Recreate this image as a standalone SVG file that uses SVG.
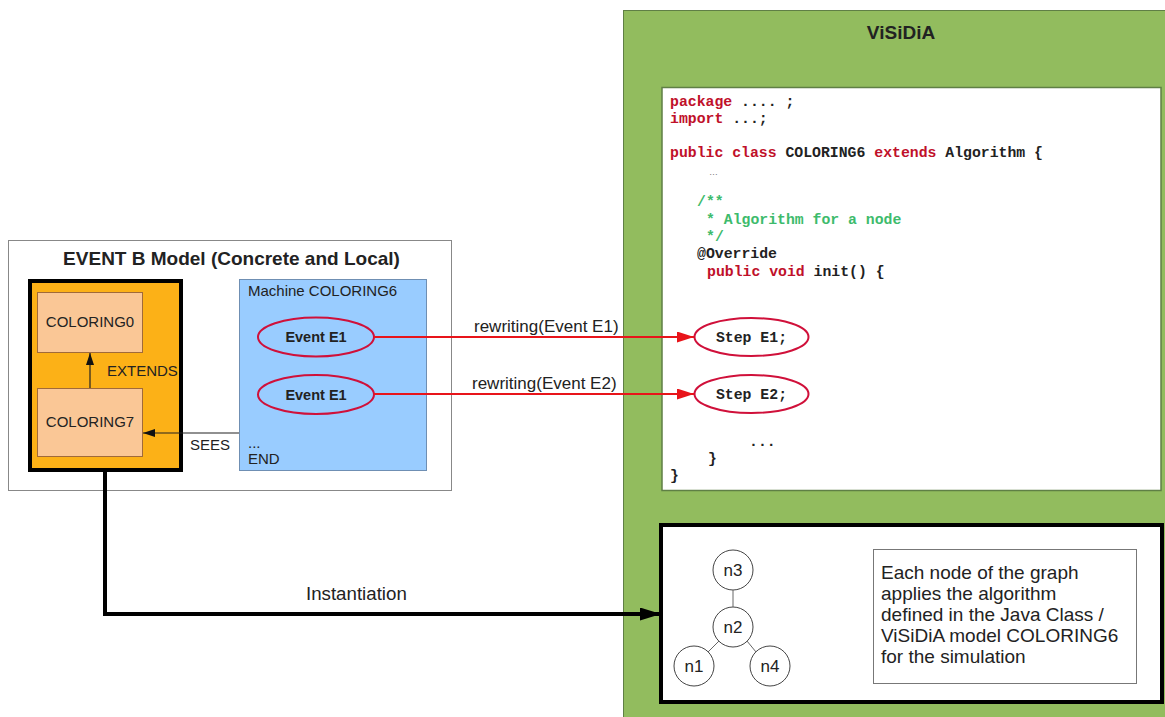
<svg xmlns="http://www.w3.org/2000/svg" width="1165" height="717" viewBox="0 0 1165 717">
<defs>
<style>
.sans{font-family:"Liberation Sans",Arial,sans-serif;fill:#222}
.b{font-weight:bold}
.mono{font-family:"Liberation Mono","Courier New",monospace;font-weight:bold;font-size:14.8px;fill:#222}
.kw{fill:#c0102a}
.cm{fill:#3dbb6c}
.peach{fill:#fac796;stroke:#a06a3a;stroke-width:1}
.ev{fill:none;stroke:#d0103a;stroke-width:2}
.node{fill:#fff;stroke:#444;stroke-width:1}
.thin{stroke:#222;stroke-width:1.2;fill:none}
.red{stroke:#e8141a;stroke-width:2;fill:none}
.edge{stroke:#666;stroke-width:1;fill:none}
</style>
<marker id="ahBlack" viewBox="0 0 12 8" refX="12" refY="4" markerWidth="12" markerHeight="8" markerUnits="userSpaceOnUse" orient="auto"><path d="M0,0 L12,4 L0,8 Z" fill="#111"/></marker>
<marker id="ahRed" viewBox="0 0 17 11" refX="17" refY="5.5" markerWidth="17" markerHeight="11" markerUnits="userSpaceOnUse" orient="auto"><path d="M0,0 L17,5.5 L0,11 Z" fill="#e8141a"/></marker>
<marker id="ahBig" viewBox="0 0 21 13" refX="21" refY="6.5" markerWidth="21" markerHeight="13" markerUnits="userSpaceOnUse" orient="auto"><path d="M0,0 L21,6.5 L0,13 Z" fill="#000"/></marker>
</defs>
<rect width="1165" height="717" fill="#fff"/>

<g id="visidia">
<rect x="623.5" y="10.5" width="560" height="720" fill="#92bc5e" stroke="#5f7f45" stroke-width="1"/>
<text class="sans b" x="901" y="39" font-size="19" text-anchor="middle">ViSiDiA</text>
</g>

<g id="code">
<rect x="662" y="87.5" width="499" height="403" fill="#fff" stroke="#5f7f45" stroke-width="1.5"/>
<text class="mono" x="670" y="106"><tspan class="kw">package</tspan> .... ;</text>
<text class="mono" x="670" y="123"><tspan class="kw">import</tspan> ...;</text>
<text class="mono" x="670" y="157"><tspan class="kw">public class</tspan> COLORING6 <tspan class="kw">extends</tspan> Algorithm {</text>
<text x="709" y="175" font-family="Liberation Sans,sans-serif" font-size="9" fill="#777">…</text>
<text class="mono cm" x="697" y="206">/**</text>
<text class="mono cm" x="706" y="224">* Algorithm for a node</text>
<text class="mono cm" x="706" y="241">*/</text>
<text class="mono" x="697" y="258">@Override</text>
<text class="mono" x="707" y="276"><tspan class="kw">public void</tspan> init() {</text>
<text class="mono" x="749" y="446">...</text>
<text class="mono" x="708" y="463">}</text>
<text class="mono" x="670" y="480">}</text>
</g>

<g id="step1">
<ellipse class="ev" cx="751.5" cy="337" rx="57" ry="19"/>
<text class="mono" x="751.5" y="342" text-anchor="middle">Step E1;</text>
</g>
<g id="step2">
<ellipse class="ev" cx="751.5" cy="394" rx="57" ry="19"/>
<text class="mono" x="751.5" y="399" text-anchor="middle">Step E2;</text>
</g>

<g id="simulation">
<rect x="661" y="525" width="501" height="177" fill="#fff" stroke="#000" stroke-width="4"/>
</g>
<g id="n3"><circle class="node" cx="733" cy="570" r="20"/><text class="sans" x="733" y="576" font-size="17" text-anchor="middle">n3</text></g>
<g id="n2"><circle class="node" cx="733" cy="627" r="20"/><text class="sans" x="733" y="633" font-size="17" text-anchor="middle">n2</text></g>
<g id="n1"><circle class="node" cx="694" cy="666" r="20"/><text class="sans" x="694" y="672" font-size="17" text-anchor="middle">n1</text></g>
<g id="n4"><circle class="node" cx="770" cy="666" r="20"/><text class="sans" x="770" y="672" font-size="17" text-anchor="middle">n4</text></g>
<g id="description">
<rect x="873.5" y="549.5" width="263" height="134" fill="#fff" stroke="#777" stroke-width="1"/>
<text class="sans" font-size="19"><tspan x="881" y="579">Each node of the graph</tspan><tspan x="881" y="600">applies the algorithm</tspan><tspan x="881" y="621">defined in the Java Class /</tspan><tspan x="881" y="642">ViSiDiA model COLORING6</tspan><tspan x="881" y="663">for the simulation</tspan></text>
</g>

<g id="eventb-model">
<rect x="8.5" y="240.5" width="443" height="250" fill="#fff" stroke="#888" stroke-width="1"/>
<text class="sans b" x="231.5" y="265" font-size="19" text-anchor="middle">EVENT B Model (Concrete and Local)</text>
</g>
<g id="context">
<rect x="30" y="281" width="151" height="189" fill="#fcb117" stroke="#000" stroke-width="4"/>
</g>
<g id="coloring0">
<rect class="peach" x="37.5" y="292.5" width="105" height="60"/>
<text class="sans" x="90" y="327" font-size="15" text-anchor="middle">COLORING0</text>
</g>
<g id="coloring7">
<rect class="peach" x="37.5" y="388.5" width="105" height="68"/>
<text class="sans" x="90" y="427" font-size="15" text-anchor="middle">COLORING7</text>
</g>
<g id="machine">
<rect x="239.5" y="279.5" width="187" height="191" fill="#99ccff" stroke="#6f8fb3" stroke-width="1"/>
<text class="sans" x="248" y="296" font-size="15">Machine COLORING6</text>
<text class="sans" x="248" y="448" font-size="15">...</text>
<text class="sans" x="248" y="464" font-size="15">END</text>
</g>
<g id="event1">
<ellipse class="ev" cx="316" cy="337" rx="58" ry="19.5"/>
<text class="sans b" x="316" y="342" font-size="14.5" text-anchor="middle">Event E1</text>
</g>
<g id="event2">
<ellipse class="ev" cx="316" cy="394.5" rx="58" ry="19.5"/>
<text class="sans b" x="316" y="399.5" font-size="14.5" text-anchor="middle">Event E1</text>
</g>

<g id="connectors">
<path class="thin" d="M90,388 V353" marker-end="url(#ahBlack)"/>
<text class="sans" x="107" y="376" font-size="15">EXTENDS</text>
<path class="thin" d="M239,433 H143" marker-end="url(#ahBlack)"/>
<text class="sans" x="190" y="450" font-size="15">SEES</text>
<path class="red" d="M374,337 H694" marker-end="url(#ahRed)"/>
<text class="sans" x="474" y="332" font-size="17">rewriting(Event E1)</text>
<path class="red" d="M374,394 H694" marker-end="url(#ahRed)"/>
<text class="sans" x="472" y="389" font-size="17">rewriting(Event E2)</text>
<path d="M105,472 V614 H661" fill="none" stroke="#000" stroke-width="4" marker-end="url(#ahBig)"/>
<text class="sans" x="306" y="600" font-size="18.7">Instantiation</text>
<path class="edge" d="M733,590 V607"/>
<path class="edge" d="M719,641 L708,652"/>
<path class="edge" d="M747,641 L756,652"/>
</g>
</svg>
